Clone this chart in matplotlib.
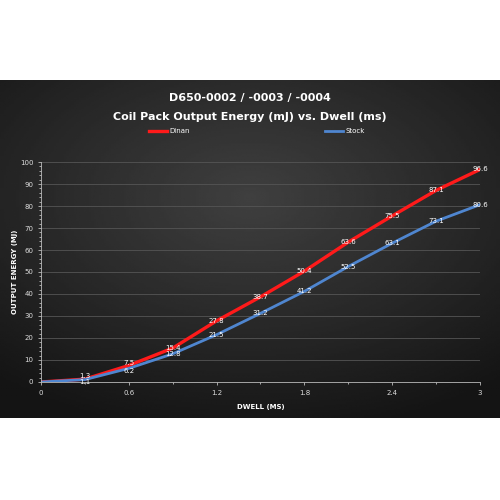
import numpy as np
import matplotlib.pyplot as plt
from matplotlib.ticker import MultipleLocator

# data
dwell = [0, 0.3, 0.6, 0.9, 1.2, 1.5, 1.8, 2.1, 2.4, 2.7, 3.0]
dinan = [0, 1.3, 7.5, 15.4, 27.8, 38.7, 50.4, 63.6, 75.5, 87.1, 96.6]
stock = [0, 1.1, 6.2, 12.8, 21.5, 31.2, 41.2, 52.5, 63.1, 73.1, 80.6]
xticks = [0, 0.6, 1.2, 1.8, 2.4, 3]

fig = plt.figure(figsize=(5, 5), dpi=100)
fig.patch.set_facecolor('white')

# dark panel with radial gradient
bg = fig.add_axes([0, 1 - 418 / 500, 1, (418 - 80) / 500])
yy, xx = np.mgrid[-1:1:200j, -1:1:200j]
r = np.sqrt((xx / 1.1) ** 2 + ((yy + 0.3) / 1.0) ** 2)
bg.imshow(0.25 - 0.12 * np.clip(r, 0, 1.4), cmap='gray', vmin=0, vmax=1,
          aspect='auto', extent=[0, 1, 0, 1])
bg.set_axis_off()

fig.text(0.5, 1 - 98 / 500, 'D650-0002 / -0003 / -0004', ha='center', va='center',
         color='white', fontsize=8, fontweight='bold')
fig.text(0.5, 1 - 117 / 500, 'Coil Pack Output Energy (mJ) vs. Dwell (ms)', ha='center',
         va='center', color='white', fontsize=8, fontweight='bold')

ax = fig.add_axes([41 / 500, 1 - 382 / 500, (480 - 41) / 500, (382 - 162) / 500])
ax.set_facecolor('none')
l1, = ax.plot(dwell, dinan, color='#ff1a1a', lw=2.4, label='Dinan')
l2, = ax.plot(dwell, stock, color='#4f86d0', lw=2.0, label='Stock')

for x, y in zip(dwell[1:], dinan[1:]):
    dy = 1.2 if y < 10 else 0
    ax.text(x, y + dy, f'{y}', color='white', fontsize=5, ha='center', va='center')
for x, y in zip(dwell[1:], stock[1:]):
    dy = -1.2 if y < 10 else 0
    ax.text(x, y + dy, f'{y}', color='white', fontsize=5, ha='center', va='center')

ax.set_xlim(0, 3)
ax.set_ylim(0, 100)
ax.set_xticks(xticks)
ax.set_xticklabels(['0', '0.6', '1.2', '1.8', '2.4', '3'])
ax.set_yticks(range(0, 101, 10))
ax.yaxis.set_minor_locator(MultipleLocator(2))
ax.xaxis.set_minor_locator(MultipleLocator(0.3))
ax.grid(axis='y', color='#555555', lw=0.6)
ax.set_axisbelow(True)
for s in ['top', 'right']:
    ax.spines[s].set_visible(False)
for s in ['left', 'bottom']:
    ax.spines[s].set_color('#bbbbbb')
    ax.spines[s].set_linewidth(0.6)
ax.tick_params(colors='#dddddd', labelsize=5, length=2, width=0.5, which='both')
ax.tick_params(which='minor', length=1.5)
ax.set_xlabel('DWELL (MS)', color='white', fontsize=5, fontweight='bold', labelpad=6)
ax.set_ylabel('OUTPUT ENERGY (MJ)', color='white', fontsize=5, fontweight='bold', labelpad=1)

fig.legend(handles=[l1], loc='center left', bbox_to_anchor=(143 / 500, 1 - 131 / 500),
           frameon=False, fontsize=5, labelcolor='white',
           handlelength=2.6, handletextpad=0.3)
fig.legend(handles=[l2], loc='center left', bbox_to_anchor=(319 / 500, 1 - 131 / 500),
           frameon=False, fontsize=5, labelcolor='white',
           handlelength=2.6, handletextpad=0.3)

fig.savefig('out.png', dpi=100, facecolor='white')
